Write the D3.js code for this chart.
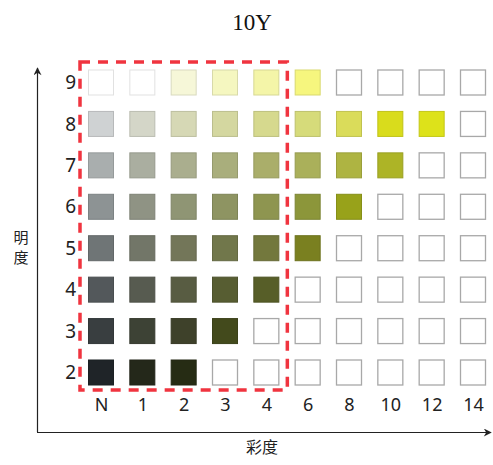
<!DOCTYPE html>
<html>
<head>
<meta charset="utf-8">
<script src="https://cdn.jsdelivr.net/npm/d3@7/dist/d3.min.js"></script>
<style>
  html, body { margin: 0; padding: 0; background: #fff; }
  svg { display: block; }
</style>
</head>
<body>
<svg id="chart" width="493" height="465"></svg>
<script>
// ---- data ----
const title = "10Y";
const chromaLabels = ["N", "1", "2", "3", "4", "6", "8", "10", "12", "14"];
const valueLabels = [2, 3, 4, 5, 6, 7, 8, 9];
const xTitle = "彩度";
const yTitle = "明度";
// colour of each cell, one array per value (lightness) row, null = empty swatch
const row9 = ["#ffffff", "#ffffff", "#f6f7d8", "#f5f7c0", "#f4f5a8", "#f6f67e", null, null, null, null];
const row8 = ["#cfd2d3", "#d4d6c8", "#d6d8b5", "#d4d7a0", "#d6d98e", "#d6db7a", "#dadc5a", "#d9dc1c", "#dde21a", null];
const row7 = ["#a9aeae", "#aaaea0", "#aaae8e", "#a9ae7c", "#aaae6a", "#aab05a", "#aeb442", "#adb426", null, null];
const row6 = ["#8d9394", "#8f9384", "#8f9574", "#8e9462", "#8e9550", "#8c963a", "#98a21a", null, null, null];
const row5 = ["#6f7576", "#727668", "#737659", "#71774b", "#73783d", "#7a8020", null, null, null, null];
const row4 = ["#53585b", "#575b50", "#585c42", "#575d32", "#575e28", null, null, null, null, null];
const row3 = ["#393e40", "#3d4235", "#3e412a", "#434a1c", null, null, null, null, null, null];
const row2 = ["#1f2428", "#24281a", "#262c14", null, null, null, null, null, null, null];
const rows = { 9: row9, 8: row8, 7: row7, 6: row6, 5: row5, 4: row4, 3: row3, 2: row2 };
// highlighted (dashed) region: chroma N..4, value 2..9
const highlightChroma = ["N", "4"];
const highlightValue = [2, 9];

// ---- layout ----
const svg = d3.select("#chart");
const cell = 25;
const x = d3.scalePoint().domain(chromaLabels).range([101, 473]);
const y = d3.scalePoint().domain(valueLabels).range([372.5, 82.5]);

const cells = [];
valueLabels.forEach(v => {
  rows[v].forEach((c, i) => cells.push({ v, k: chromaLabels[i], color: c }));
});

svg.append("g").selectAll("rect").data(cells).join("rect")
  .attr("x", d => x(d.k) - cell / 2)
  .attr("y", d => y(d.v) - cell / 2)
  .attr("width", cell).attr("height", cell)
  .attr("fill", d => d.color || "#ffffff")
  .attr("stroke", d => d.color ? d3.color(d.color).darker(0.35) : "#a8a8a8")
  .attr("stroke-width", d => d.color ? 1 : 1.3);

// dashed highlight
const hx0 = x(highlightChroma[0]) - cell / 2 - 8.5;
const hx1 = x(highlightChroma[1]) + cell / 2 + 8.5;
const hy0 = y(highlightValue[1]) - cell / 2 - 8;
const hy1 = y(highlightValue[0]) + cell / 2 + 5;
svg.append("rect")
  .attr("x", hx0).attr("y", hy0)
  .attr("width", hx1 - hx0).attr("height", hy1 - hy0)
  .attr("fill", "none")
  .attr("stroke", "#f0343f")
  .attr("stroke-width", 3.5)
  .attr("stroke-dasharray", "10,8");

// axes tick labels
const xAxis = d3.axisBottom(x).tickSize(0).tickPadding(0);
const gx = svg.append("g").attr("transform", "translate(0,392)").call(xAxis);
gx.select(".domain").remove();
gx.selectAll("text")
  .attr("dy", "0.71em")
  .attr("y", 6)
  .style("font-family", "'Noto Sans', 'Open Sans', sans-serif")
  .style("font-size", "18px")
  .attr("fill", "#222");

const yAxis = d3.axisLeft(y).tickSize(0).tickPadding(0);
const gy = svg.append("g").attr("transform", "translate(76,0)").call(yAxis);
gy.select(".domain").remove();
gy.selectAll("text")
  .attr("x", 0)
  .style("font-family", "'Noto Sans', 'Open Sans', sans-serif")
  .style("font-size", "19px")
  .attr("fill", "#222");

// arrows
const defs = svg.append("defs");
defs.append("marker").attr("id", "arr")
  .attr("viewBox", "0 0 10 10").attr("refX", 9).attr("refY", 5)
  .attr("markerWidth", 10).attr("markerHeight", 8).attr("markerUnits", "userSpaceOnUse")
  .attr("orient", "auto")
  .append("path").attr("d", "M0,0 L10,5 L0,10 L3,5 Z").attr("fill", "#222");

svg.append("line").attr("x1", 37.5).attr("y1", 432).attr("x2", 37.5).attr("y2", 68)
  .attr("stroke", "#222").attr("stroke-width", 1.2).attr("marker-end", "url(#arr)");
svg.append("line").attr("x1", 37).attr("y1", 432.5).attr("x2", 491).attr("y2", 432.5)
  .attr("stroke", "#222").attr("stroke-width", 1.2).attr("marker-end", "url(#arr)");

// titles
svg.append("text").attr("x", 252).attr("y", 30).attr("text-anchor", "middle")
  .style("font-family", "'Liberation Serif', 'DejaVu Serif', serif")
  .style("font-size", "23px").attr("fill", "#111").text(title);

svg.append("text").attr("x", 262).attr("y", 453).attr("text-anchor", "middle")
  .style("font-family", "'Noto Sans CJK SC', sans-serif")
  .style("font-size", "16px").attr("fill", "#222").text(xTitle);

svg.append("g").selectAll("text").data(yTitle.split("")).join("text")
  .attr("x", 21).attr("y", (d, i) => 243 + i * 20)
  .attr("text-anchor", "middle")
  .style("font-family", "'Noto Sans CJK SC', sans-serif")
  .style("font-size", "15px").attr("fill", "#222")
  .text(d => d);
</script>
</body>
</html>
